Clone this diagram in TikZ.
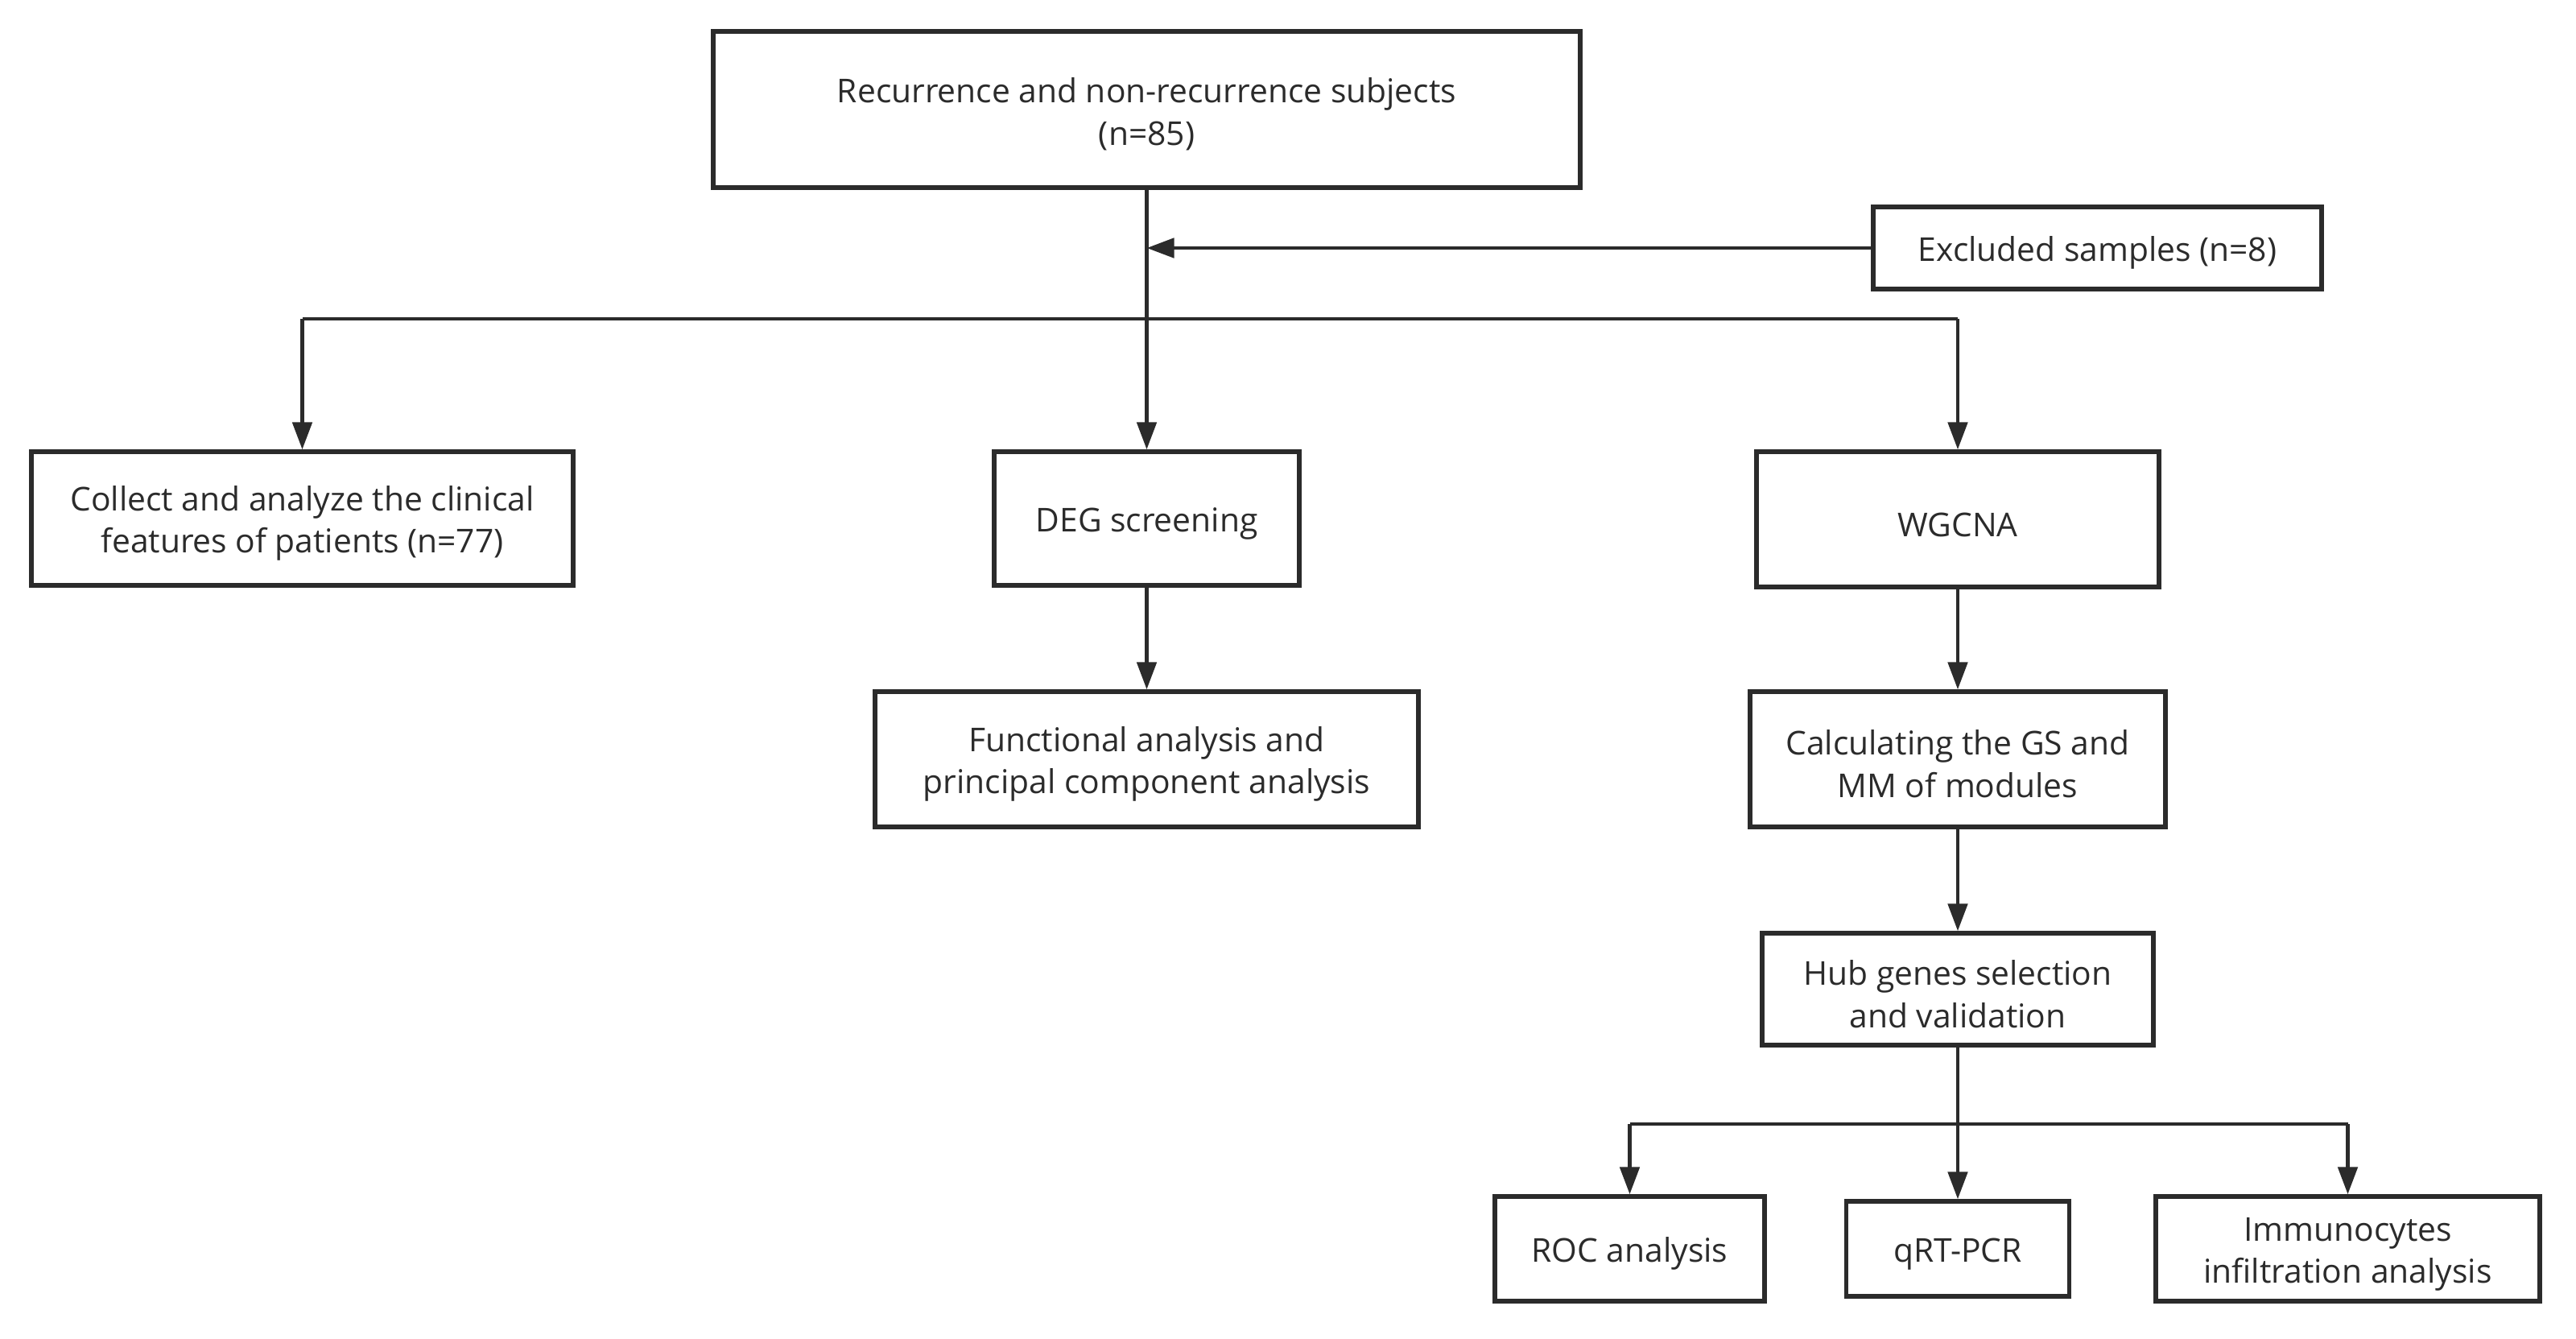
\documentclass[tikz,border=0pt]{standalone}
\usepackage{fontspec}
\setmainfont{Open Sans}
\usetikzlibrary{arrows.meta}
\definecolor{ink}{HTML}{2B2B2B}
\begin{document}
\begin{tikzpicture}[x=1cm,y=1cm,
  box/.style={draw=ink, line width=1.5pt, fill=white, align=center,
    text=ink, font=\fontsize{11.6}{15}\selectfont, inner sep=0pt,
    execute at begin node={\rule{0pt}{12.4pt}}},
  twoline/.style={box, execute at begin node={\rule{0pt}{27.2pt}}},
  link/.style={draw=ink, line width=1.4pt},
  arr/.style={link, -{Triangle[length=0.34cm,width=0.24cm]}}]
\useasboundingbox (0,0) rectangle (32,-16.62);

% top level
\node[twoline, minimum width=10.77cm, minimum height=1.94cm] (top) at (14.245,-1.36)
  {Recurrence and non-recurrence subjects\\(n=85)};
\node[box, minimum width=5.57cm, minimum height=1.02cm] (excl) at (26.055,-3.08)
  {Excluded samples (n=8)};

% first row of branches
\node[twoline, minimum width=6.73cm, minimum height=1.66cm] (clin) at (3.755,-6.44)
  {Collect and analyze the clinical\\features of patients (n=77)};
\node[box, minimum width=3.79cm, minimum height=1.66cm] (deg) at (14.245,-6.44)
  {DEG screening};
\node[box, minimum width=5.00cm, minimum height=1.68cm] (wgcna) at (24.32,-6.45)
  {WGCNA};

% second row
\node[twoline, minimum width=6.75cm, minimum height=1.68cm] (func) at (14.245,-9.43)
  {Functional analysis and\\principal component analysis};
\node[twoline, minimum width=5.16cm, minimum height=1.68cm] (calc) at (24.32,-9.43)
  {Calculating the GS and\\MM of modules};
\node[twoline, minimum width=4.86cm, minimum height=1.39cm] (hub) at (24.32,-12.285)
  {Hub genes selection\\and validation};

% final row
\node[box, minimum width=3.35cm, minimum height=1.30cm] (roc) at (20.245,-15.51)
  {ROC analysis};
\node[box, minimum width=2.77cm, minimum height=1.18cm] (qrt) at (24.32,-15.51)
  {qRT-PCR};
\node[twoline, minimum width=4.77cm, minimum height=1.30cm] (immu) at (29.165,-15.51)
  {Immunocytes\\infiltration analysis};

% junctions
\coordinate (split1) at (14.245,-3.96);
\coordinate (split2) at (24.32,-13.96);

% connectors
\draw[arr] (top.south) -- (deg.north);
\draw[arr] (excl.west) -- (excl.west -| top.south);
\draw[link] (clin.north |- split1) -- (wgcna.north |- split1);
\draw[arr] (clin.north |- split1) -- (clin.north);
\draw[arr] (wgcna.north |- split1) -- (wgcna.north);
\draw[arr] (deg.south) -- (func.north);
\draw[arr] (wgcna.south) -- (calc.north);
\draw[arr] (calc.south) -- (hub.north);
\draw[arr] (hub.south) -- (qrt.north);
\draw[link] (roc.north |- split2) -- (immu.north |- split2);
\draw[arr] (roc.north |- split2) -- (roc.north);
\draw[arr] (immu.north |- split2) -- (immu.north);
\end{tikzpicture}
\end{document}
